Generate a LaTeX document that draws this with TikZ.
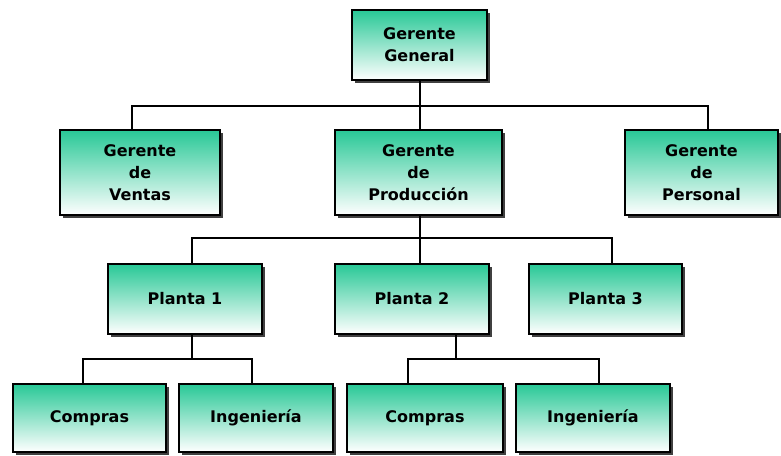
\documentclass[tikz,border=0pt]{standalone}
\usepackage{xcolor}
\usepackage{tikz}
\usepackage{fontspec}
\setsansfont{DejaVu Sans}
\definecolor{orggreen}{RGB}{40, 200, 150}
\usetikzlibrary{shadows}

\begin{document}
\begin{tikzpicture}[
    x=1pt, y=-1pt,
    unit/.style={rectangle, draw=black, line width=1.6pt, top color=orggreen, bottom color=white,
        drop shadow={shadow xshift=2.5pt, shadow yshift=-2.5pt, fill=black!75, opacity=1},
        inner sep=0pt, align=center, font=\sffamily\bfseries\fontsize{16}{22}\selectfont},
    link/.style={line width=1.3pt, black}
]
    \useasboundingbox (0,0) rectangle (781,455);

    % Units of the chart
    \node[unit, minimum width=135pt, minimum height=70pt] (gg) at (419.5,45) {Gerente\\General};
    \node[unit, minimum width=160pt, minimum height=85pt] (ventas) at (140,172.5) {Gerente\\de\\Ventas};
    \node[unit, minimum width=167pt, minimum height=85pt] (prod) at (418.5,172.5) {Gerente\\de\\Producción};
    \node[unit, minimum width=153pt, minimum height=85pt] (personal) at (701.5,172.5) {Gerente\\de\\Personal};
    \node[unit, minimum width=154pt, minimum height=70pt] (pl1) at (185,299) {Planta 1};
    \node[unit, minimum width=154pt, minimum height=70pt] (pl2) at (412,299) {Planta 2};
    \node[unit, minimum width=153pt, minimum height=70pt] (pl3) at (605.5,299) {Planta 3};
    \node[unit, minimum width=153pt, minimum height=68pt] (comp1) at (89.5,418) {Compras};
    \node[unit, minimum width=154pt, minimum height=68pt] (ing1) at (256,418) {Ingeniería};
    \node[unit, minimum width=156pt, minimum height=68pt] (comp2) at (425,418) {Compras};
    \node[unit, minimum width=154pt, minimum height=68pt] (ing2) at (593,418) {Ingeniería};

    % Bus points
    \coordinate (busA) at (420,106);
    \coordinate (busB) at (420,238);
    \coordinate (busC) at (192,359);
    \coordinate (busD) at (456,359);

    % Connectors
    \draw[link] (420,0 |- gg.south) -- (busA);
    \draw[link] (132,0 |- ventas.north) |- (busA) -| (708,0 |- personal.north);
    \draw[link] (busA) -- (420,0 |- prod.north);

    \draw[link] (420,0 |- prod.south) -- (busB);
    \draw[link] (192,0 |- pl1.north) |- (busB) -| (612,0 |- pl3.north);
    \draw[link] (busB) -- (420,0 |- pl2.north);

    \draw[link] (192,0 |- pl1.south) -- (busC);
    \draw[link] (83,0 |- comp1.north) |- (busC) -| (252,0 |- ing1.north);

    \draw[link] (456,0 |- pl2.south) -- (busD);
    \draw[link] (408,0 |- comp2.north) |- (busD) -| (599,0 |- ing2.north);

\end{tikzpicture}
\end{document}
